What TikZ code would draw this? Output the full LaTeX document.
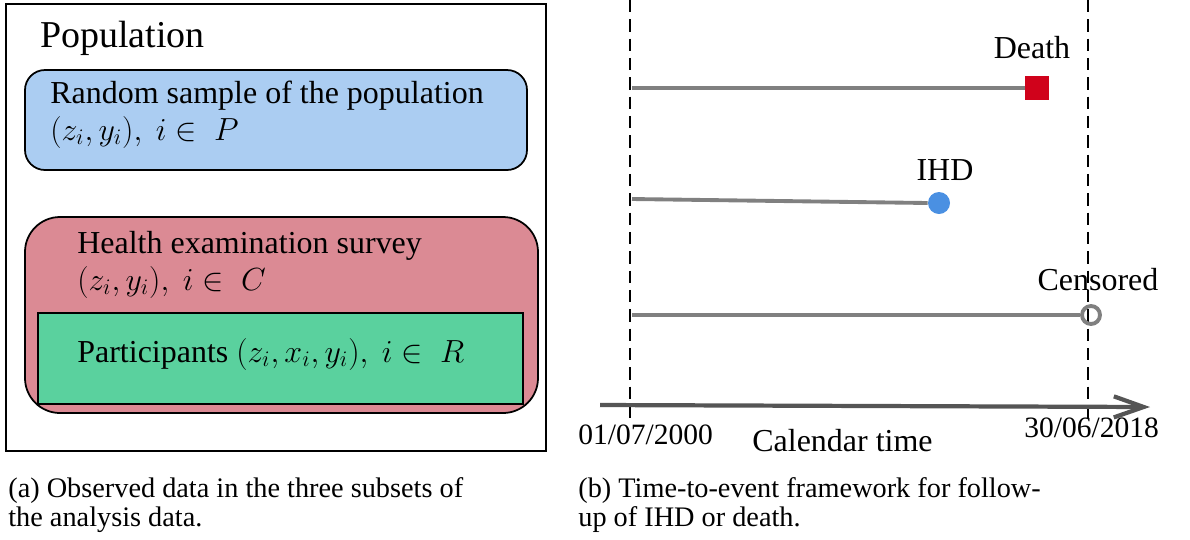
\documentclass[tikz,border=0pt]{standalone}
\usepackage{graphicx}
\usepackage{fontspec}
\setmainfont{Liberation Serif}
\usetikzlibrary{arrows.meta}

\definecolor{sampleblue}{HTML}{ABCDF2}
\definecolor{surveyred}{HTML}{DB8A94}
\definecolor{partgreen}{HTML}{5AD19E}
\definecolor{deathred}{HTML}{D0021B}
\definecolor{ihdblue}{HTML}{4A90E2}
\definecolor{followgray}{HTML}{808080}
\definecolor{axisgray}{HTML}{555555}

\newcommand{\mth}[1]{\scalebox{1.053}{$#1$}}

\tikzset{
  lbl/.style={anchor=base west, inner sep=0pt, font=\fontsize{18.2}{22}\selectfont},
  captxt/.style={anchor=base west, inner sep=0pt, font=\fontsize{16.1}{19}\selectfont},
  datelbl/.style={anchor=base west, inner sep=0pt, font=\fontsize{16.8}{20}\selectfont},
  followup/.style={draw=followgray, line width=2.2pt},
  bound/.style={line width=0.9pt, dash pattern=on 7pt off 4pt},
}

\begin{document}
\begin{tikzpicture}[x=0.02cm, y=-0.02cm]
        \useasboundingbox (0,0) rectangle (1190,539);

        % (a) subsets of the data
        \draw[line width=1pt] (6,4) rectangle (546,451);
        \node[lbl, font=\fontsize{21.6}{26}\selectfont] (pop) at (40,47) {Population};

        \draw[fill=sampleblue, line width=1pt, rounded corners=0.4cm] (25,70) rectangle (527,170);
        \node[lbl] (sample) at (50,103) {Random sample of the population};
        \node[lbl] (samplev) at (50,140) {\mth{(z_i,y_i),\ i\in\ P}};

        \draw[fill=surveyred, line width=1pt, rounded corners=0.7cm] (25,217) rectangle (538,413);
        \node[lbl] (survey) at (77,253) {Health examination survey};
        \node[lbl] (surveyv) at (77,290) {\mth{(z_i,y_i),\ i\in\ C}};

        \draw[fill=partgreen, line width=1pt] (38,313) rectangle (523,404);
        \node[lbl] (part) at (77,362) {Participants \mth{(z_i,x_i,y_i),\ i\in\ R}};

        % (b) follow-up
        \draw[bound] (630,0) -- (630,425);
        \draw[bound] (1088,0) -- (1088,425);
        \draw[draw=axisgray, line width=2.4pt, -{Straight Barb[length=17pt, width=12pt, line width=2.4pt]}] (600,405) -- (1150,407);

        \node[fill=deathred, minimum size=0.48cm, inner sep=0pt] (death) at (1037,88) {};
        \draw[followup] (632,88) -- (death.west);
        \node[lbl, anchor=base] (deathlbl) at (1032,58) {Death};

        \node[circle, fill=ihdblue, minimum size=0.44cm, inner sep=0pt] (ihd) at (939,203) {};
        \draw[followup] (632,199) -- (ihd.west);
        \node[lbl, anchor=base] (ihdlbl) at (945,180) {IHD};

        \node[circle, draw=followgray, line width=2.2pt, minimum size=0.36cm, inner sep=0pt] (cens) at (1091,315) {};
        \draw[followup] (632,315) -- (cens.west);
        \node[lbl, anchor=base] (censlbl) at (1098,290) {Censored};

        \node[datelbl] (begin) at (578,444) {01/07/2000};
        \node[datelbl] (end) at (1024,437) {30/06/2018};
        \node[lbl] (caltime) at (752,451) {Calendar time};

        % captions
        \node[captxt] (capa1) at (8,497) {(a) Observed data in the three subsets of};
        \node[captxt] (capa2) at (8,526) {the analysis data.};
        \node[captxt] (capb1) at (578,497) {(b) Time-to-event framework for follow-};
        \node[captxt] (capb2) at (578,526) {up of IHD or death.};
\end{tikzpicture}
\end{document}
